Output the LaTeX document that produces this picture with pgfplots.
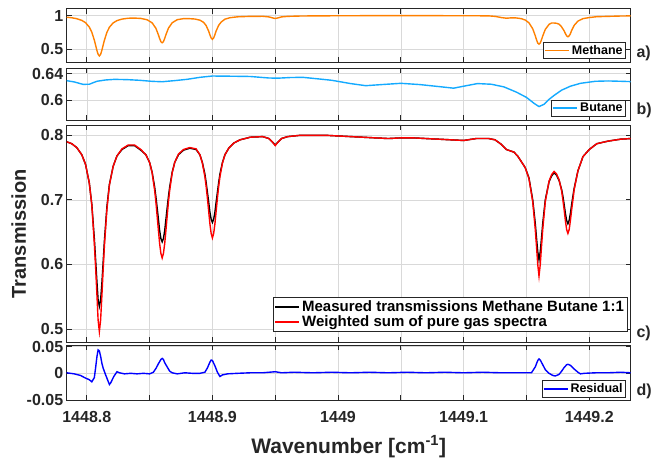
\documentclass[border=0pt]{standalone}
\usepackage{fontspec}
\setmainfont{Liberation Sans}
\usepackage{pgfplots}
\usepackage{pgfplotstable}
\pgfplotsset{compat=1.18}

\definecolor{methane}{RGB}{255,128,0}
\definecolor{butane}{RGB}{20,170,255}
\definecolor{axgray}{RGB}{38,38,38}

% measured mixture (black) and weighted sum (red)
\pgfplotstableread{
x y
1448.784 0.790
1448.788 0.787
1448.792 0.781
1448.796 0.770
1448.799 0.755
1448.802 0.726
1448.804 0.693
1448.806 0.640
1448.807 0.608
1448.808 0.575
1448.809 0.545
1448.810 0.535
1448.811 0.545
1448.812 0.570
1448.813 0.603
1448.814 0.636
1448.816 0.689
1448.818 0.724
1448.821 0.752
1448.824 0.768
1448.828 0.778
1448.833 0.784
1448.838 0.784
1448.843 0.777
1448.847 0.770
1448.850 0.758
1448.852 0.743
1448.854 0.720
1448.855 0.705
1448.856 0.688
1448.857 0.670
1448.858 0.652
1448.859 0.640
1448.860 0.635
1448.861 0.640
1448.862 0.652
1448.863 0.670
1448.864 0.688
1448.865 0.705
1448.866 0.720
1448.868 0.743
1448.870 0.758
1448.873 0.770
1448.877 0.777
1448.882 0.780
1448.887 0.778
1448.890 0.770
1448.892 0.758
1448.894 0.740
1448.895 0.727
1448.896 0.712
1448.897 0.697
1448.898 0.681
1448.899 0.670
1448.900 0.665
1448.901 0.670
1448.902 0.681
1448.903 0.697
1448.904 0.712
1448.905 0.727
1448.906 0.740
1448.908 0.758
1448.910 0.770
1448.913 0.780
1448.917 0.788
1448.922 0.793
1448.930 0.797
1448.940 0.798
1448.945 0.795
1448.948 0.789
1448.950 0.785
1448.952 0.789
1448.955 0.795
1448.960 0.798
1448.970 0.800
1448.980 0.800
1448.990 0.800
1449.000 0.799
1449.010 0.798
1449.020 0.797
1449.030 0.796
1449.040 0.795
1449.050 0.796
1449.060 0.796
1449.070 0.795
1449.080 0.794
1449.090 0.793
1449.100 0.792
1449.110 0.795
1449.120 0.795
1449.125 0.793
1449.130 0.786
1449.134 0.778
1449.137 0.776
1449.140 0.774
1449.143 0.768
1449.146 0.759
1449.149 0.750
1449.152 0.734
1449.155 0.700
1449.157 0.664
1449.158 0.641
1449.159 0.620
1449.160 0.607
1449.161 0.620
1449.162 0.641
1449.163 0.664
1449.165 0.700
1449.168 0.728
1449.170 0.737
1449.172 0.742
1449.174 0.738
1449.176 0.730
1449.178 0.716
1449.179 0.706
1449.180 0.693
1449.181 0.679
1449.182 0.668
1449.183 0.663
1449.184 0.668
1449.185 0.679
1449.186 0.693
1449.187 0.706
1449.188 0.718
1449.191 0.745
1449.195 0.767
1449.200 0.778
1449.206 0.787
1449.215 0.791
1449.225 0.794
1449.233 0.795
}\measured

\pgfplotstableread{
x y
1448.784 0.790
1448.788 0.787
1448.792 0.781
1448.796 0.770
1448.799 0.755
1448.802 0.726
1448.804 0.692
1448.806 0.632
1448.807 0.596
1448.808 0.556
1448.809 0.514
1448.810 0.496
1448.811 0.514
1448.812 0.551
1448.813 0.591
1448.814 0.628
1448.816 0.685
1448.818 0.723
1448.821 0.752
1448.824 0.768
1448.828 0.779
1448.833 0.785
1448.838 0.785
1448.843 0.778
1448.847 0.770
1448.850 0.758
1448.852 0.742
1448.854 0.715
1448.855 0.697
1448.856 0.675
1448.857 0.653
1448.858 0.632
1448.859 0.617
1448.860 0.610
1448.861 0.617
1448.862 0.632
1448.863 0.653
1448.864 0.675
1448.865 0.697
1448.866 0.715
1448.868 0.742
1448.870 0.758
1448.873 0.771
1448.877 0.778
1448.882 0.781
1448.887 0.779
1448.890 0.770
1448.892 0.757
1448.894 0.736
1448.895 0.721
1448.896 0.703
1448.897 0.683
1448.898 0.663
1448.899 0.648
1448.900 0.641
1448.901 0.648
1448.902 0.663
1448.903 0.683
1448.904 0.703
1448.905 0.721
1448.906 0.736
1448.908 0.757
1448.910 0.770
1448.913 0.780
1448.917 0.788
1448.922 0.793
1448.930 0.797
1448.940 0.798
1448.945 0.795
1448.948 0.789
1448.950 0.784
1448.952 0.789
1448.955 0.795
1448.960 0.798
1448.970 0.800
1448.980 0.800
1448.990 0.800
1449.000 0.799
1449.010 0.798
1449.020 0.797
1449.030 0.796
1449.040 0.795
1449.050 0.796
1449.060 0.796
1449.070 0.795
1449.080 0.794
1449.090 0.793
1449.100 0.792
1449.110 0.795
1449.120 0.795
1449.125 0.793
1449.130 0.786
1449.134 0.778
1449.137 0.776
1449.140 0.774
1449.143 0.768
1449.146 0.759
1449.149 0.750
1449.152 0.733
1449.155 0.697
1449.157 0.655
1449.158 0.628
1449.159 0.600
1449.160 0.582
1449.161 0.600
1449.162 0.628
1449.163 0.655
1449.165 0.697
1449.168 0.729
1449.170 0.739
1449.172 0.744
1449.174 0.740
1449.176 0.731
1449.178 0.714
1449.179 0.700
1449.180 0.685
1449.181 0.668
1449.182 0.654
1449.183 0.648
1449.184 0.654
1449.185 0.668
1449.186 0.685
1449.187 0.700
1449.188 0.716
1449.191 0.745
1449.195 0.767
1449.200 0.778
1449.206 0.787
1449.215 0.791
1449.225 0.794
1449.233 0.795
}\weighted

\pgfplotstableread{
x y
1448.784 0.977
1448.788 0.969
1448.792 0.955
1448.796 0.930
1448.799 0.895
1448.802 0.829
1448.804 0.752
1448.806 0.632
1448.807 0.557
1448.808 0.481
1448.809 0.421
1448.810 0.396
1448.811 0.421
1448.812 0.480
1448.813 0.556
1448.814 0.630
1448.816 0.750
1448.818 0.827
1448.821 0.892
1448.824 0.926
1448.828 0.949
1448.833 0.962
1448.838 0.964
1448.843 0.959
1448.848 0.939
1448.852 0.893
1448.855 0.811
1448.857 0.713
1448.858 0.656
1448.859 0.609
1448.860 0.593
1448.861 0.611
1448.862 0.658
1448.863 0.715
1448.865 0.813
1448.868 0.894
1448.872 0.940
1448.877 0.956
1448.882 0.955
1448.886 0.950
1448.890 0.933
1448.893 0.900
1448.895 0.852
1448.897 0.769
1448.898 0.713
1448.899 0.665
1448.900 0.645
1448.901 0.666
1448.902 0.715
1448.903 0.772
1448.905 0.856
1448.907 0.905
1448.910 0.948
1448.914 0.970
1448.920 0.983
1448.930 0.990
1448.940 0.991
1448.945 0.982
1448.948 0.966
1448.950 0.958
1448.952 0.966
1448.955 0.982
1448.960 0.990
1448.970 0.995
1448.980 0.997
1448.990 0.998
1449.000 0.999
1449.020 1.000
1449.050 1.000
1449.080 1.000
1449.110 0.999
1449.120 0.997
1449.125 0.990
1449.130 0.972
1449.134 0.962
1449.138 0.968
1449.142 0.966
1449.146 0.955
1449.149 0.935
1449.152 0.893
1449.155 0.804
1449.157 0.700
1449.158 0.640
1449.159 0.589
1449.160 0.573
1449.161 0.590
1449.162 0.640
1449.163 0.697
1449.165 0.794
1449.168 0.870
1449.170 0.890
1449.172 0.890
1449.174 0.886
1449.176 0.872
1449.178 0.832
1449.180 0.772
1449.181 0.732
1449.182 0.697
1449.183 0.684
1449.184 0.697
1449.185 0.730
1449.186 0.780
1449.188 0.855
1449.191 0.919
1449.195 0.956
1449.200 0.972
1449.206 0.985
1449.215 0.990
1449.225 0.995
1449.233 0.997
}\methane

\pgfplotstableread{
x y
1448.784 0.6294
1448.790 0.6275
1448.797 0.6238
1448.802 0.6240
1448.808 0.6285
1448.815 0.6305
1448.822 0.6314
1448.832 0.6310
1448.842 0.6300
1448.852 0.6284
1448.860 0.6278
1448.870 0.6295
1448.880 0.6315
1448.890 0.6345
1448.900 0.6365
1448.915 0.6362
1448.930 0.6358
1448.945 0.6335
1448.952 0.6332
1448.962 0.6342
1448.972 0.6345
1448.985 0.6320
1448.995 0.6300
1449.010 0.6250
1449.022 0.6218
1449.035 0.6235
1449.050 0.6254
1449.065 0.6235
1449.080 0.6205
1449.092 0.6180
1449.100 0.6210
1449.111 0.6250
1449.122 0.6240
1449.132 0.6200
1449.142 0.6120
1449.150 0.6040
1449.156 0.5950
1449.160 0.5900
1449.164 0.5935
1449.168 0.6010
1449.172 0.6070
1449.178 0.6150
1449.185 0.6210
1449.193 0.6254
1449.205 0.6285
1449.215 0.6290
1449.225 0.6285
1449.233 0.6280
}\butane

\pgfplotstableread{
x y
1448.784 0.001
1448.790 -0.001
1448.795 -0.004
1448.799 -0.009
1448.802 -0.012
1448.804 -0.016
1448.806 -0.008
1448.807 0.010
1448.808 0.030
1448.809 0.044
1448.810 0.042
1448.811 0.032
1448.812 0.019
1448.813 0.010
1448.815 -0.003
1448.817 -0.015
1448.818 -0.021
1448.819 -0.018
1448.8215 -0.006
1448.824 0.003
1448.826 0.001
1448.830 -0.001
1448.835 0.000
1448.840 -0.001
1448.845 0.000
1448.850 -0.001
1448.853 0.002
1448.855 0.009
1448.857 0.018
1448.859 0.026
1448.860 0.028
1448.861 0.026
1448.862 0.020
1448.864 0.012
1448.866 0.004
1448.868 0.001
1448.872 -0.001
1448.878 0.001
1448.884 0.000
1448.890 0.000
1448.894 0.002
1448.896 0.010
1448.898 0.021
1448.899 0.025
1448.900 0.024
1448.902 0.014
1448.904 0.002
1448.906 -0.006
1448.908 -0.003
1448.912 -0.001
1448.920 0.000
1448.930 0.001
1448.940 0.001
1448.950 0.003
1448.955 0.001
1448.965 0.002
1448.980 0.001
1448.995 0.002
1449.010 0.001
1449.025 0.002
1449.040 0.001
1449.055 0.002
1449.070 0.001
1449.085 0.002
1449.100 0.001
1449.115 0.002
1449.130 0.001
1449.145 0.001
1449.154 0.001
1449.157 0.012
1449.159 0.024
1449.160 0.027
1449.161 0.025
1449.163 0.016
1449.165 0.007
1449.168 0.000
1449.171 -0.004
1449.173 -0.005
1449.176 -0.002
1449.178 0.004
1449.180 0.011
1449.182 0.016
1449.183 0.017
1449.185 0.015
1449.188 0.008
1449.191 0.002
1449.193 -0.001
1449.196 0.000
1449.205 0.001
1449.215 0.001
1449.225 0.002
1449.233 0.001
}\residual

\pgfplotsset{
  panel/.style={
    scale only axis, width=564pt,
    xmin=1448.784, xmax=1449.233,
    xtick={1448.8,1448.85,1448.9,1448.95,1449,1449.05,1449.1,1449.15,1449.2},
    xticklabels={},
    scaled y ticks=false, scaled x ticks=false,
    grid=major, grid style={gray!30, line width=0.6pt},
    axis line style={axgray, line width=0.8pt},
    tick style={axgray, line width=0.8pt},
    major tick length=5pt,
    tick align=inside,
    ticklabel style={font=\fontsize{16}{16}\selectfont\bfseries, text=axgray},
    /pgf/number format/assume math mode=true,
    legend style={font=\fontsize{12.5}{13}\selectfont\bfseries, draw=axgray,
      line width=0.8pt, inner sep=1pt, row sep=-1pt, fill=white},
    legend cell align=left,
    legend image code/.code={\draw[#1, line width=1.6pt] (0pt,0pt) -- (24pt,0pt);},
    every axis plot/.append style={line width=1.4pt},
  }
}

\newcommand{\lowtick}[1]{\rule{0pt}{19pt}#1}

\begin{document}
\begin{tikzpicture}
\useasboundingbox (0pt,0pt) rectangle (652pt,-462pt);

% a) methane
\begin{axis}[panel, at={(66.7pt,-8.7pt)}, anchor=north west, height=53.3pt,
  ymin=0.305, ymax=1.105, ytick={0.5,1}, yticklabels={0.5,1},
  legend style={at={(1,0)}, anchor=south east, xshift=-4.7pt, yshift=2.7pt}]
\addplot[methane] table {\methane};
\legend{Methane}
\end{axis}

% b) butane
\begin{axis}[panel, at={(66.7pt,-68pt)}, anchor=north west, height=52pt,
  ymin=0.5696, ymax=0.6487, ytick={0.6,0.64}, yticklabels={0.6,0.64},
  legend style={at={(1,0)}, anchor=south east, xshift=-4.7pt, yshift=3.3pt}]
\addplot[butane] table {\butane};
\legend{Butane}
\end{axis}

% c) mixture
\begin{axis}[panel, at={(66.7pt,-125.3pt)}, anchor=north west, height=217pt,
  ymin=0.4794, ymax=0.8155, ytick={0.5,0.6,0.7,0.8}, yticklabels={0.5,0.6,0.7,0.8},
  ylabel={Transmission}, ylabel shift=8pt,
  ylabel style={font=\fontsize{20}{20}\selectfont\bfseries, text=axgray},
  legend style={at={(1,0)}, anchor=south east, xshift=-3.4pt, yshift=10.6pt,
    font=\fontsize{15}{16}\selectfont\bfseries}]
\addplot[black] table {\measured};
\addplot[red] table {\weighted};
\legend{Measured transmissions Methane Butane 1:1, Weighted sum of pure gas spectra}
\end{axis}

% d) residual
\begin{axis}[panel, at={(66.7pt,-345pt)}, anchor=north west, height=55.3pt,
  ymin=-0.0507, ymax=0.0532, ytick={-0.05,0,0.05}, yticklabels={-0.05,0,0.05},
  xticklabels={\lowtick{1448.8},,\lowtick{1448.9},,\lowtick{1449},,\lowtick{1449.1},,\lowtick{1449.2}},
  xlabel={Wavenumber [cm\textsuperscript{-1}]}, xlabel shift=6pt,
  xlabel style={font=\fontsize{21}{21}\selectfont\bfseries, text=axgray},
  legend style={at={(1,0)}, anchor=south east, xshift=-4.7pt, yshift=2.6pt}]
\addplot[blue] table {\residual};
\legend{Residual}
\end{axis}

\node[anchor=west, font=\fontsize{16}{16}\selectfont\bfseries, text=axgray] at (633pt,-53pt) {a)};
\node[anchor=west, font=\fontsize{16}{16}\selectfont\bfseries, text=axgray] at (633pt,-110pt) {b)};
\node[anchor=west, font=\fontsize{16}{16}\selectfont\bfseries, text=axgray] at (633pt,-333pt) {c)};
\node[anchor=west, font=\fontsize{16}{16}\selectfont\bfseries, text=axgray] at (633pt,-391pt) {d)};
\end{tikzpicture}
\end{document}
